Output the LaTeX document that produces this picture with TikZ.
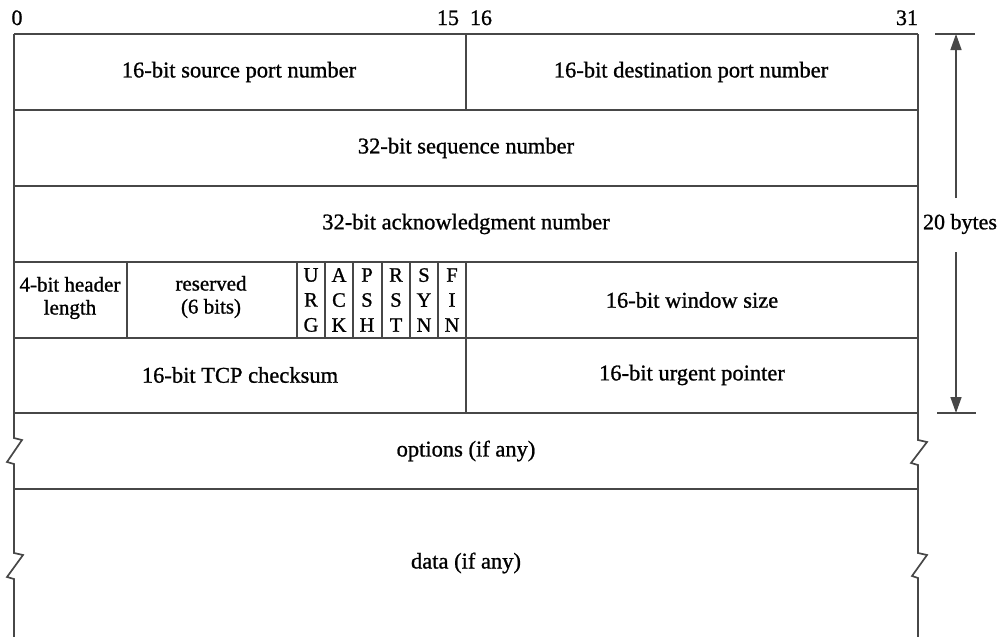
\documentclass[tikz,border=0pt]{standalone}
\usepackage{fontspec}
\setmainfont{Liberation Serif}
\newfontfamily\semib{Liberation Serif}[FakeBold=1.0]
\usetikzlibrary{arrows.meta}
\definecolor{ink}{HTML}{474747}
\begin{document}
\begin{tikzpicture}[x=1pt,y=-1pt,
  grid/.style={draw=ink,line width=1.7pt,line join=miter},
  lbl/.style={inner sep=0pt,font=\semib\fontsize{22.5}{23}\selectfont,text=black},
  small/.style={inner sep=0pt,font=\semib\fontsize{21}{23}\selectfont,align=center,text=black},
  flag/.style={inner sep=0pt,font=\semib\fontsize{20.5}{25}\selectfont,align=center,text=black},
  num/.style={inner sep=0pt,font=\semib\fontsize{22}{23}\selectfont,text=black},
  dim/.style={draw=ink,line width=1.5pt}]
\useasboundingbox (0,0) rectangle (1001,637);
% outer edges with break marks
\draw[grid] (14,34) -- (14,438) -- (22,440) -- (7,462) -- (14,464) -- (14,553) -- (23,555) -- (7,577) -- (14,579) -- (14,640);
\draw[grid] (918,34) -- (918,440) -- (927,442) -- (911,463) -- (918,465) -- (918,553) -- (927,555) -- (912,576) -- (918,578) -- (918,640);
% horizontal lines
\foreach \y in {34,110,186,262,338,413,489} \draw[grid] (14,\y) -- (918,\y);
% vertical separators
\draw[grid] (466,34) -- (466,110);
\draw[grid] (466,262) -- (466,413);
\draw[grid] (127,262) -- (127,338);
\foreach \x in {297,325,353,382,410,438} \draw[grid] (\x,262) -- (\x,338);
% bit numbers
\node[num,anchor=base] (b0) at (17,25) {0};
\node[num,anchor=base] (b15) at (448,25) {15};
\node[num,anchor=base] (b16) at (481,25) {16};
\node[num,anchor=base] (b31) at (907,25) {31};
% fields
\node[lbl] (sport) at (239,72) {16-bit source port number};
\node[lbl] (dport) at (691,72) {16-bit destination port number};
\node[lbl] (seq) at (466,148) {32-bit sequence number};
\node[lbl] (ack) at (466,224) {32-bit acknowledgment number};
\node[small] (hlen) at (70,298) {4-bit header\\length};
\node[small] (res) at (211,297) {reserved\\(6 bits)};
\node[flag] (urg) at (311,300) {U\\R\\G};
\node[flag] (ackf) at (339,300) {A\\C\\K};
\node[flag] (psh) at (367,300) {P\\S\\H};
\node[flag] (rst) at (396,300) {R\\S\\T};
\node[flag] (syn) at (424,300) {S\\Y\\N};
\node[flag] (fin) at (452,300) {F\\I\\N};
\node[lbl] (win) at (692,300) {16-bit window size};
\node[lbl] (csum) at (240,375) {16-bit TCP checksum};
\node[lbl] (urgp) at (692,375) {16-bit urgent pointer};
\node[lbl] (opt) at (466,451) {options (if any)};
\node[lbl] (data) at (466,563) {data (if any)};
% 20 bytes dimension
\coordinate (ttop) at (956,34);
\coordinate (tbot) at (956,413);
\draw[dim] (935,34) -- (975,34);
\draw[dim] (937,413) -- (976,413);
\node[num] (twenty) at (960,224) {20 bytes};
\draw[dim,-{Triangle[width=11pt,length=16pt]}] (956,198) -- (ttop);
\draw[dim,-{Triangle[width=11pt,length=16pt]}] (956,252) -- (tbot);
\end{tikzpicture}
\end{document}
